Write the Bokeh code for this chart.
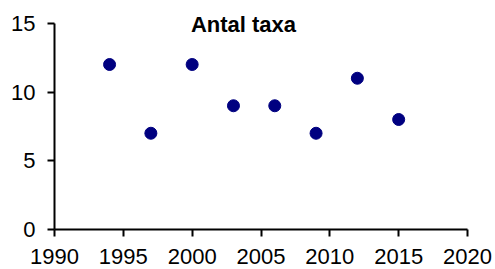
from bokeh.plotting import figure
from bokeh.models import FixedTicker, Range1d, Label
from bokeh.embed import file_html
from bokeh.resources import INLINE

years = [1994, 1997, 2000, 2003, 2006, 2009, 2012, 2015]
taxa = [12, 7, 12, 9, 9, 7, 11, 8]
x_ticks = [1990, 1995, 2000, 2005, 2010, 2015, 2020]
y_ticks = [0, 5, 10, 15]
title_text = "Antal taxa"

p = figure(width=495, height=269, output_backend="svg", toolbar_location=None,
           x_range=Range1d(1990, 2020), y_range=Range1d(0, 16),
           min_border_left=54, min_border_right=28, min_border_top=9, min_border_bottom=40)
p.outline_line_color = None
p.xgrid.visible = False
p.ygrid.visible = False
p.background_fill_color = "white"
p.border_fill_color = "white"

p.scatter(years, taxa, size=12, color="#000080", line_color="#000080")

for ax, ticks in ((p.xaxis[0], x_ticks), (p.yaxis[0], y_ticks)):
    ax.ticker = FixedTicker(ticks=ticks)
    ax.minor_tick_line_color = None
    ax.axis_line_width = 2
    ax.major_tick_line_width = 2
    ax.axis_line_color = "black"
    ax.major_tick_line_color = "black"
    ax.major_tick_in = 0
    ax.major_tick_out = 7
    ax.major_label_text_font = "Liberation Sans"
    ax.major_label_text_font_size = "22px"
    ax.major_label_text_color = "black"

p.yaxis[0].bounds = (0, 15)
p.xaxis[0].major_label_standoff = 12
p.yaxis[0].major_label_standoff = 12

lbl = Label(x=189, y=205, x_units="screen", y_units="screen", text=title_text,
            text_align="center", text_baseline="middle",
            text_font="Liberation Sans", text_font_style="bold", text_font_size="22px",
            text_color="black")
p.add_layout(lbl)

open("out.html", "w").write(file_html(p, INLINE))
